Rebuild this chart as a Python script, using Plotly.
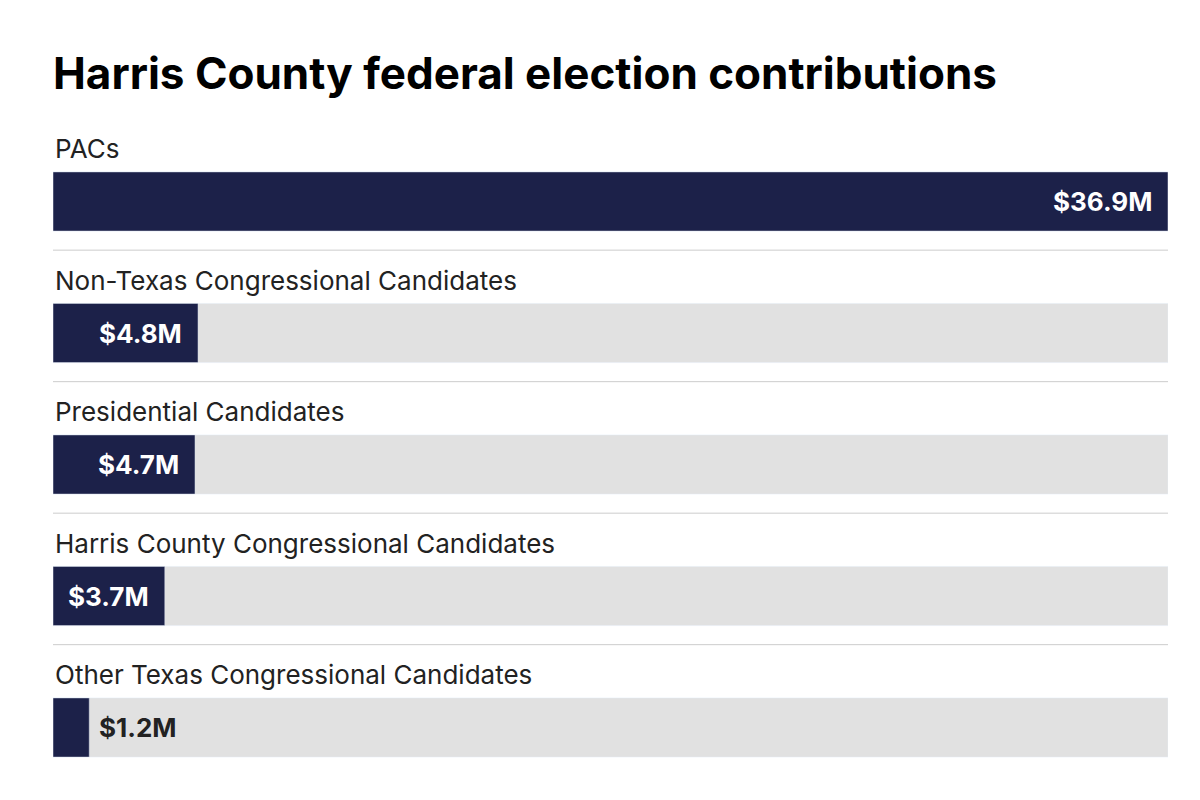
import plotly.graph_objects as go

categories = ["PACs", "Non-Texas Congressional Candidates", "Presidential Candidates",
              "Harris County Congressional Candidates", "Other Texas Congressional Candidates"]
values = [36.9, 4.8, 4.7, 3.7, 1.2]
value_labels = ["$36.9M", "$4.8M", "$4.7M", "$3.7M", "$1.2M"]

navy = "#1c2149"
gray = "#e1e1e1"
pos = list(range(len(categories)))
full = max(values)

fig = go.Figure()
fig.add_trace(go.Bar(x=[full] * len(pos), y=pos, orientation="h", width=0.45,
                     marker_color=gray, hoverinfo="skip"))
fig.add_trace(go.Bar(x=values, y=pos, orientation="h", width=0.45,
                     marker_color=navy, hovertext=categories))

for i, (cat, v, lab) in enumerate(zip(categories, values, value_labels)):
    fig.add_annotation(x=0, xref="paper", y=i, yshift=53, text=cat, showarrow=False,
                       xanchor="left", font=dict(size=26, color="#222"))
    inside = v / full > 0.08
    fig.add_annotation(x=v, y=i, text="<b>%s</b>" % lab, showarrow=False,
                       xanchor="right" if inside else "left", xshift=-14 if inside else 8,
                       font=dict(size=26, color="white" if inside else "#222"))
    if i < len(categories) - 1:
        fig.add_shape(type="line", xref="paper", x0=0, x1=1, y0=i + 0.37, y1=i + 0.37,
                      line=dict(color="#cccccc", width=1))

fig.update_layout(
    width=1200, height=800, barmode="overlay", showlegend=False,
    margin=dict(l=45, r=40, t=100, b=15),
    plot_bgcolor="white", paper_bgcolor="white",
    font=dict(family="Inter, Roboto, sans-serif"),
    title=dict(text="<b>Harris County federal election contributions</b>", x=0, xref="paper",
               y=0.918, yanchor="middle", font=dict(size=44, color="black")),
    xaxis=dict(range=[0, full], visible=False, fixedrange=True),
    yaxis=dict(range=[4.498, -0.711], visible=False, fixedrange=True),
)

fig.write_html("out.html")
